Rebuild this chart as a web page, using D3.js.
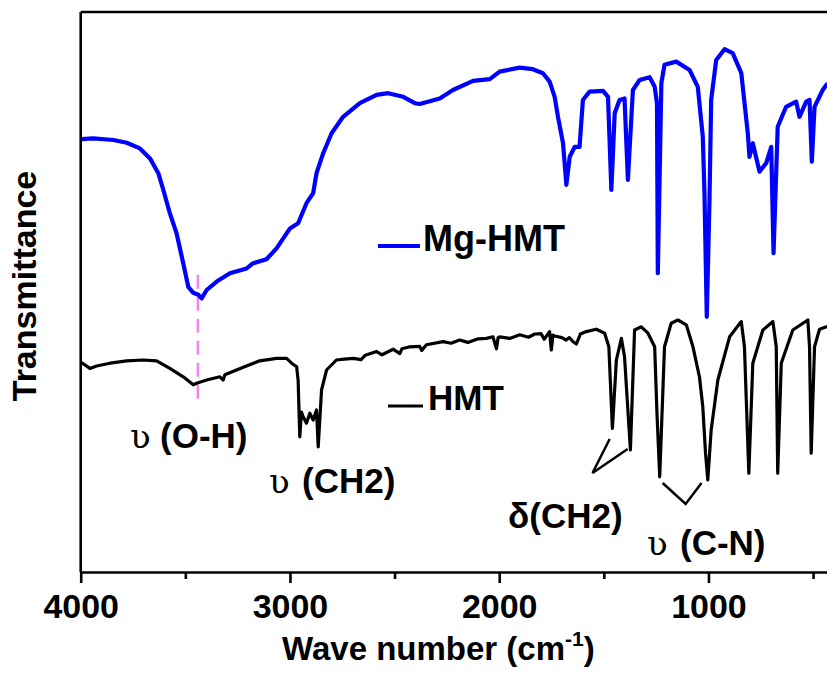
<!DOCTYPE html>
<html>
<head>
<meta charset="utf-8">
<script src="https://cdn.jsdelivr.net/npm/d3@7"></script>
<style>
body{margin:0;background:#fff;}
text{font-family:Arial,"Liberation Sans",sans-serif;font-weight:bold;fill:#000;}
</style>
</head>
<body>
<svg id="chart" width="827" height="677"></svg>
<script>
// [wavenumber cm-1, transmittance a.u.]
var mgHmt = [[4000,108.2],[3995,108.2],[3940,108.4],[3844,108],[3780,107.3],[3717,105.9],[3669,103.4],[3629,99.7],
  [3605,95.5],[3574,89.7],[3542,84.7],[3510,77.2],[3486,71.3],[3462,69.8],[3438,69.3],[3422,68.4],[3398,70.5],
  [3350,72.6],[3287,74.7],[3207,75.9],[3176,77.2],[3112,78.2],[3064,80.9],[3000,85.9],[2961,87.2],[2921,92.2],
  [2889,94.7],[2873,99.7],[2841,104.7],[2801,109.7],[2746,113.8],[2666,117.2],[2586,119.3],[2531,119.7],
  [2459,118.8],[2403,117.2],[2380,117],[2284,118.4],[2221,120.5],[2125,122.8],[2045,123.2],[1998,125.1],
  [1902,126.1],[1839,125.7],[1791,124.7],[1759,122.6],[1735,118.8],[1719,113.8],[1695,107.2],[1679,96.8],
  [1663,103.8],[1639,106.3],[1616,106.3],[1600,118],[1568,120.1],[1504,120.3],[1480,118.8],[1464,95.5],
  [1448,114.7],[1425,118],[1401,118.4],[1385,98],[1361,120.5],[1329,123],[1281,123.7],[1257,121.3],[1246,117.2],
  [1242,74.7],[1225,122.2],[1210,126.8],[1154,127.6],[1090,125.5],[1051,121.3],[1027,108.8],[1019,94.7],
  [1008,63.8],[995,93],[987,118],[963,128],[923,130.7],[884,129.7],[843,124.7],[812,109.7],[804,103.8],
  [788,107.2],[756,100.1],[724,102.2],[700,106.3],[689,79.7],[669,111.3],[629,116.3],[581,117.6],[565,113.8],
  [533,117.6],[517,118],[506,102.6],[493,116.3],[454,120.5],[436,121.8],[400,123]];

var hmt = [[4000,52.3],[3995,52.3],[3956,50.9],[3924,51.5],[3860,52.2],[3780,52.8],[3701,53],[3637,52.8],
  [3574,50.9],[3510,48.8],[3462,46.8],[3446,47.2],[3398,48],[3335,48.8],[3319,48],[3311,49.3],[3223,51.2],
  [3144,52.8],[3064,53.4],[3016,53.4],[2992,52.2],[2968,51.3],[2961,48],[2953,33.8],[2945,40],[2937,38.8],
  [2921,37.2],[2905,39.7],[2889,38],[2873,40.5],[2865,31.3],[2849,45.5],[2825,50.5],[2778,53],[2740,53.2],
  [2698,53.4],[2660,53.1],[2640,54.2],[2586,55.1],[2560,54.3],[2507,55.7],[2475,54.6],[2465,55.8],[2427,56.3],
  [2380,56.4],[2370,55.4],[2348,56.8],[2268,57.6],[2230,57.2],[2189,58],[2150,57.4],[2100,58.3],[2061,58.4],
  [2030,58.8],[2013,55.8],[2005,58.6],[1998,58.8],[1950,58.4],[1902,59.3],[1860,58.7],[1830,59.5],[1800,59.6],
  [1785,58.2],[1759,60.1],[1751,55.5],[1743,59.2],[1735,59],[1700,58.6],[1680,58],[1665,58.6],[1645,57.5],
  [1631,57],[1612,59.5],[1584,60.1],[1536,60.7],[1496,59.7],[1476,56.3],[1459,35.9],[1440,53],[1416,58.4],
  [1401,53.8],[1373,30.5],[1353,60.5],[1321,61.3],[1289,59.7],[1257,56.3],[1246,39.7],[1233,23.8],[1210,56.3],
  [1178,62.2],[1146,63],[1106,61.8],[1074,56.3],[1043,48.8],[1027,41.3],[1014,29.7],[1003,23],[987,35.5],
  [955,48],[899,58.8],[843,62.6],[828,56.3],[807,24.7],[788,52.2],[740,60.5],[692,62.6],[676,56.3],[669,24.7],
  [652,52.2],[597,60.5],[525,63],[517,56.3],[509,29.7],[493,56.3],[469,60.7],[436,61.3],[400,61.5]];

var xTicks = [4000,3000,2000,1000];
var xMinorTicks = [3500,2500,1500,500];
var ohWave = 3440, ohRange = [74.3,42.3];
var deltaBracket = [[1472,33.25],[1554,24.75],[1386,30.75]];
var cnBracket = [[1219,22.25],[1109,17],[1033,22.25]];

var svg = d3.select("#chart");
var margin = {top:12, left:80.7, bottom:572, right:834};

var x = d3.scaleLinear().domain([4000,400]).range([margin.left,margin.right]);
var y = d3.scaleLinear().domain([0,140]).range([margin.bottom,margin.top]);

svg.append("clipPath").attr("id","plot-clip")
  .append("rect").attr("x",margin.left).attr("y",margin.top)
  .attr("width",margin.right-margin.left).attr("height",margin.bottom-margin.top);

var line = d3.line().x(function(d){return x(d[0]);}).y(function(d){return y(d[1]);});

//O-H marker
svg.append("line")
  .attr("x1",x(ohWave)).attr("x2",x(ohWave))
  .attr("y1",y(ohRange[0])).attr("y2",y(ohRange[1]))
  .style("stroke","#ee86ec").style("stroke-width",2.5).style("stroke-dasharray","14,8");

svg.append("path").datum(hmt)
  .attr("clip-path","url(#plot-clip)")
  .attr("d",line).style("fill","none").style("stroke","#000")
  .style("stroke-width",3.2).style("stroke-linejoin","round");

svg.append("path").datum(mgHmt)
  .attr("clip-path","url(#plot-clip)")
  .attr("d",line).style("fill","none").style("stroke","#0000ff")
  .style("stroke-width",4.2).style("stroke-linejoin","round");

//frame
svg.append("line").attr("x1",margin.left).attr("x2",margin.right)
  .attr("y1",margin.top).attr("y2",margin.top)
  .style("stroke","#000").style("stroke-width",2.6);
svg.append("line").attr("x1",margin.left).attr("x2",margin.left)
  .attr("y1",margin.top).attr("y2",margin.bottom)
  .style("stroke","#000").style("stroke-width",2.6);

var xAxis = svg.append("g").attr("transform","translate(0,"+margin.bottom+")")
  .call(d3.axisBottom(x).tickValues(xTicks).tickSize(11).tickSizeOuter(0).tickPadding(11).tickFormat(d3.format("d")));
xAxis.select(".domain").style("stroke-width",2.6);
xAxis.selectAll(".tick line").style("stroke-width",2.6);
xAxis.selectAll(".tick text").style("font-size","34px").style("font-family","Arial, 'Liberation Sans', sans-serif").style("font-weight","bold");

var xMinor = svg.append("g").attr("transform","translate(0,"+margin.bottom+")")
  .call(d3.axisBottom(x).tickValues(xMinorTicks).tickSize(7).tickSizeOuter(0).tickFormat(""));
xMinor.select(".domain").remove();
xMinor.selectAll(".tick line").style("stroke-width",2.6);

//axis titles
var xt = svg.append("text").attr("x",282).attr("y",660).style("font-size","33px");
xt.append("tspan").text("Wave number (cm");
xt.append("tspan").attr("dy",-14).style("font-size","21px").text("-1");
xt.append("tspan").attr("dy",14).text(")");

svg.append("text").attr("transform","translate(36,286) rotate(-90)")
  .attr("text-anchor","middle").style("font-size","34px").text("Transmittance");

//legend
svg.append("line").attr("x1",378).attr("x2",420).attr("y1",246).attr("y2",246)
  .style("stroke","#0000ff").style("stroke-width",4);
svg.append("text").attr("x",423).attr("y",251).style("font-size","36px").text("Mg-HMT");
svg.append("line").attr("x1",388).attr("x2",423).attr("y1",406).attr("y2",406)
  .style("stroke","#000").style("stroke-width",3);
svg.append("text").attr("x",428).attr("y",410).style("font-size","35px").text("HMT");

//band labels
var bands = [
  {sym:true, sx:130, tx:160, y:448, label:"(O-H)"},
  {sym:true, sx:269, tx:302, y:493, label:"(CH2)"},
  {sym:false, sx:0, tx:508, y:528, label:"\u03b4(CH2)"},
  {sym:true, sx:647, tx:680, y:555, label:"(C-N)"}
];
bands.forEach(function(b){
  if(b.sym){
    svg.append("text").attr("x",b.sx).attr("y",b.y)
      .style("font-family","'DejaVu Serif',serif").style("font-weight","normal")
      .style("font-size","34px").text("\u028b");
  }
  svg.append("text").attr("x",b.tx).attr("y",b.y).style("font-size","35px").text(b.label);
});

[deltaBracket,cnBracket].forEach(function(br){
  svg.append("path").datum(br).attr("d",line)
    .style("fill","none").style("stroke","#000").style("stroke-width",2.5);
});
</script>
</body>
</html>
